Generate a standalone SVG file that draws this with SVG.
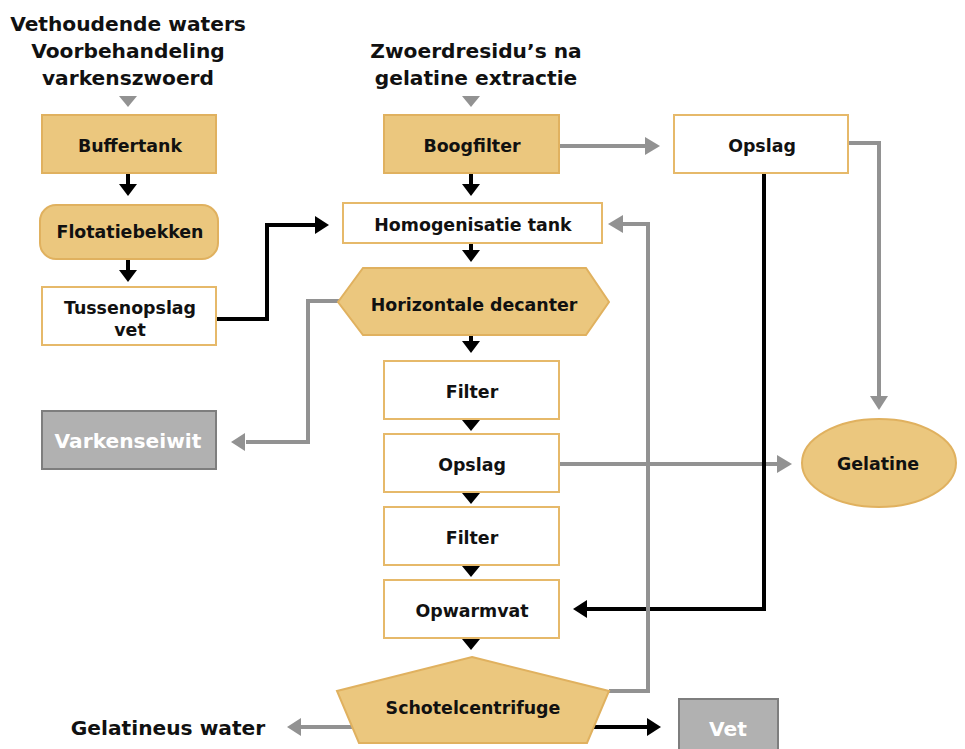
<svg xmlns="http://www.w3.org/2000/svg" width="965" height="749" viewBox="0 0 965 749">
<style>
text{font-family:"DejaVu Sans","Liberation Sans",sans-serif;font-weight:bold;fill:#111;text-anchor:middle}
.t{font-size:20.2px}
.n{font-size:17.4px}
.w{font-size:20.2px;fill:#fff}
.gold{fill:#EBC77E;stroke:#E0B15F;stroke-width:2}
.white{fill:#fff;stroke:#E6B96A;stroke-width:2}
.grey{fill:#B1B1B1;stroke:#7E7E7E;stroke-width:2}
.lk{fill:none;stroke:#000;stroke-width:4}
.lg{fill:none;stroke:#929292;stroke-width:4}
.hk{fill:#000}
.hg{fill:#929292}
</style>
<rect width="965" height="749" fill="#fff"/>
<g id="connectors">
  <polygon class="hg" points="119,96 137,96 128,107"/>
  <polygon class="hg" points="462,96 480,96 471,107"/>
  <line class="lk" x1="128" y1="173" x2="128" y2="186"/>
  <polygon class="hk" points="119,184 137,184 128,196"/>
  <line class="lk" x1="128" y1="259" x2="128" y2="273"/>
  <polygon class="hk" points="119,270 137,270 128,282"/>
  <polyline class="lk" points="216,319 267,319 267,225 316,225"/>
  <polygon class="hk" points="315,216 329,225 315,234"/>
  <polyline class="lg" points="340,301 308,301 308,442 246,442"/>
  <polygon class="hg" points="245,433 231,442 245,451"/>
  <line class="lk" x1="471" y1="173" x2="471" y2="186"/>
  <polygon class="hk" points="462,184 480,184 471,196"/>
  <line class="lk" x1="471" y1="243" x2="471" y2="253"/>
  <polygon class="hk" points="462,250 480,250 471,262"/>
  <line class="lk" x1="471" y1="335" x2="471" y2="343"/>
  <polygon class="hk" points="462,341 480,341 471,353"/>
  <polygon class="hk" points="462,420 480,420 471,431"/>
  <polygon class="hk" points="462,493 480,493 471,504"/>
  <polygon class="hk" points="462,566 480,566 471,577"/>
  <polygon class="hk" points="462,639 480,639 471,650"/>
  <line class="lg" x1="559" y1="146" x2="646" y2="146"/>
  <polygon class="hg" points="645,137 660,146 645,155"/>
  <polyline class="lg" points="848,143 879,143 879,396"/>
  <polygon class="hg" points="870,396 888,396 879,410"/>
  <line class="lg" x1="559" y1="464" x2="778" y2="464"/>
  <polygon class="hg" points="777,455 792,464 777,473"/>
  <polyline class="lk" points="764,173 764,609 586,609"/>
  <polygon class="hk" points="587,600 573,609 587,618"/>
  <polyline class="lg" points="609,691 648,691 648,224 622,224"/>
  <polygon class="hg" points="623,215 608,224 623,233"/>
  <line class="lg" x1="355" y1="727" x2="300" y2="727"/>
  <polygon class="hg" points="301,718 287,727 301,736"/>
  <line class="lk" x1="590" y1="727" x2="648" y2="727"/>
  <polygon class="hk" points="647,718 661,727 647,736"/>
</g>
<g id="title-left">
  <text class="t" x="128" y="31">Vethoudende waters</text>
  <text class="t" x="128" y="58">Voorbehandeling</text>
  <text class="t" x="128" y="85">varkenszwoerd</text>
</g>
<g id="title-center">
  <text class="t" x="476" y="58">Zwoerdresidu’s na</text>
  <text class="t" x="476" y="85">gelatine extractie</text>
</g>
<g id="buffertank">
  <rect class="gold" x="42" y="115" width="174" height="58"/>
  <text class="n" x="130" y="152">Buffertank</text>
</g>
<g id="flotatiebekken">
  <rect class="gold" x="40" y="205" width="178" height="54" rx="16"/>
  <text class="n" x="130" y="238">Flotatiebekken</text>
</g>
<g id="tussenopslag">
  <rect class="white" x="42" y="287" width="174" height="58"/>
  <text class="n" x="130" y="314">Tussenopslag</text>
  <text class="n" x="130" y="336">vet</text>
</g>
<g id="varkenseiwit">
  <rect class="grey" x="42" y="411" width="174" height="58"/>
  <text class="w" x="128" y="448">Varkenseiwit</text>
</g>
<g id="boogfilter">
  <rect class="gold" x="384" y="115" width="175" height="58"/>
  <text class="n" x="472" y="152">Boogfilter</text>
</g>
<g id="homogenisatie">
  <rect class="white" x="343" y="203" width="259" height="40"/>
  <text class="n" x="473" y="231">Homogenisatie tank</text>
</g>
<g id="decanter">
  <polygon class="gold" points="338,302 363,268 586,268 609,302 586,335 363,335"/>
  <text class="n" x="474" y="311">Horizontale decanter</text>
</g>
<g id="filter1">
  <rect class="white" x="384" y="361" width="175" height="58"/>
  <text class="n" x="472" y="398">Filter</text>
</g>
<g id="opslag-mid">
  <rect class="white" x="384" y="434" width="175" height="58"/>
  <text class="n" x="472" y="471">Opslag</text>
</g>
<g id="filter2">
  <rect class="white" x="384" y="507" width="175" height="58"/>
  <text class="n" x="472" y="544">Filter</text>
</g>
<g id="opwarmvat">
  <rect class="white" x="384" y="580" width="175" height="58"/>
  <text class="n" x="472" y="617">Opwarmvat</text>
</g>
<g id="schotelcentrifuge">
  <polygon class="gold" points="472,657 609,691 587,743 359,743 337,691"/>
  <text class="n" x="473" y="714">Schotelcentrifuge</text>
</g>
<g id="opslag-top">
  <rect class="white" x="674" y="115" width="174" height="58"/>
  <text class="n" x="762" y="152">Opslag</text>
</g>
<g id="gelatine">
  <ellipse class="gold" cx="879" cy="463" rx="77" ry="44"/>
  <text class="n" x="878" y="470">Gelatine</text>
</g>
<g id="gelatineus-water">
  <text class="t" x="168" y="735">Gelatineus water</text>
</g>
<g id="vet">
  <rect class="grey" x="679" y="699" width="99" height="60"/>
  <text class="w" x="728" y="736">Vet</text>
</g>
</svg>
